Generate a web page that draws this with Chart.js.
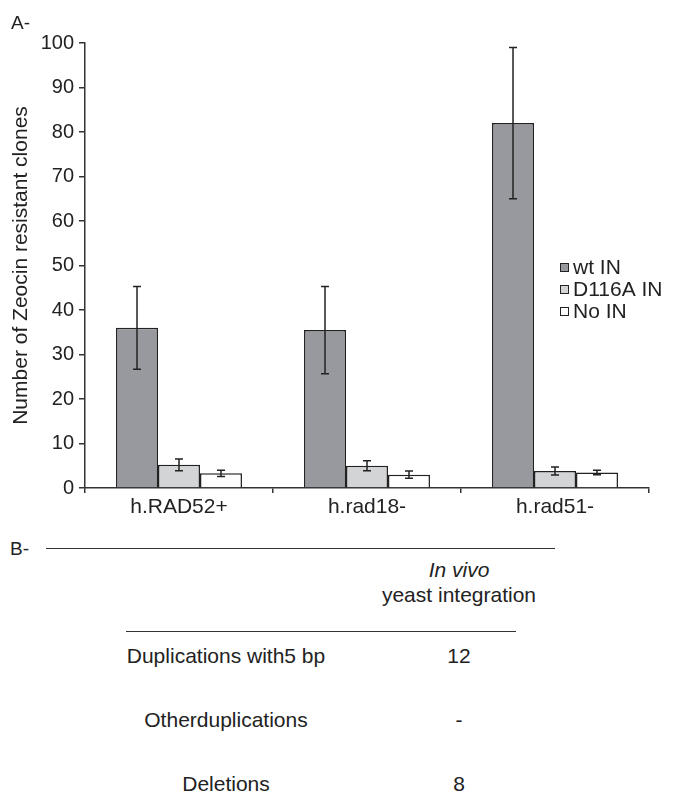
<!DOCTYPE html>
<html lang="en">
<head>
  <meta charset="UTF-8">
  <title>Zeocin resistant clones</title>
  <script src="https://cdn.jsdelivr.net/npm/chart.js"></script>
  <style>
    body {
      margin: 0;
      background: #fff;
      font-family: "Liberation Sans", Arial, sans-serif;
      color: #222;
    }
    .page {
      position: relative;
      width: 673px;
      height: 808px;
      overflow: hidden;
    }
    #chart {
      position: absolute;
      left: 0;
      top: 0;
    }
    .lbl {
      position: absolute;
      font-size: 19px;
      line-height: 1;
    }
    .rule {
      position: absolute;
      border-top: 1.5px solid #333;
      height: 0;
    }
    .cell {
      position: absolute;
      font-size: 21px;
      line-height: 1;
      white-space: nowrap;
      transform: translate(-50%, -50%);
    }
  </style>
</head>
<body>
<div class="page">
  <canvas id="chart" width="673" height="520"></canvas>
  <div class="lbl" style="left:11px; top:13px;">A-</div>

  <!-- part B: small table -->
  <div class="lbl" style="left:10px; top:539px;">B-</div>
  <div class="rule" style="left:46px; top:548px; width:509px;"></div>
  <div class="cell" style="left:459px; top:569px;"><i>In vivo</i></div>
  <div class="cell" style="left:459px; top:594px;">yeast integration</div>
  <div class="rule" style="left:126px; top:631px; width:390px;"></div>
  <div id="rows"></div>
</div>

<script>
  // chart data
  const categories = ['h.RAD52+', 'h.rad18-', 'h.rad51-'];
  const seriesNames = ['wt IN', 'D116A IN', 'No IN'];
  const wtValues = [36, 35.5, 82];
  const wtErrors = [9.3, 9.8, 17];
  const d116aValues = [5.2, 5.0, 3.8];
  const d116aErrors = [1.3, 1.1, 0.9];
  const noInValues = [3.3, 3.0, 3.5];
  const noInErrors = [0.7, 0.8, 0.5];
  const yMin = 0, yMax = 100, yStep = 10;

  // table data
  const rowLabels = ['Duplications with5 bp', 'Otherduplications', 'Deletions'];
  const rowValues = ['12', '-', '8'];

  const rowTops = [655, 719, 783];
  const rows = document.getElementById('rows');
  rowLabels.forEach((txt, i) => {
    const a = document.createElement('div');
    a.className = 'cell';
    a.style.left = '226px';
    a.style.top = rowTops[i] + 'px';
    a.textContent = txt;
    rows.appendChild(a);
    const b = document.createElement('div');
    b.className = 'cell';
    b.style.left = '459px';
    b.style.top = rowTops[i] + 'px';
    b.textContent = rowValues[i];
    rows.appendChild(b);
  });

  const fam = '"Liberation Sans", Arial, sans-serif';

  // error bars drawn over the bars
  const errorBars = {
    id: 'errorBars',
    afterDatasetsDraw(chart) {
      const ctx = chart.ctx;
      const y = chart.scales.y;
      ctx.save();
      ctx.strokeStyle = '#222';
      ctx.lineWidth = 1.5;
      chart.data.datasets.forEach((ds, i) => {
        chart.getDatasetMeta(i).data.forEach((bar, j) => {
          const top = y.getPixelForValue(ds.data[j] + ds.errors[j]);
          const bot = y.getPixelForValue(ds.data[j] - ds.errors[j]);
          ctx.beginPath();
          ctx.moveTo(bar.x, top);
          ctx.lineTo(bar.x, bot);
          ctx.moveTo(bar.x - 4, top);
          ctx.lineTo(bar.x + 4, top);
          ctx.moveTo(bar.x - 4, bot);
          ctx.lineTo(bar.x + 4, bot);
          ctx.stroke();
        });
      });
      ctx.restore();
    }
  };

  // legend floating inside the plot, right side
  const floatLegend = {
    id: 'floatLegend',
    afterDraw(chart) {
      const ctx = chart.ctx;
      ctx.save();
      ctx.font = '21px ' + fam;
      ctx.textBaseline = 'middle';
      chart.data.datasets.forEach((ds, i) => {
        const cy = 267 + i * 22;
        ctx.fillStyle = ds.backgroundColor;
        ctx.fillRect(560, cy - 4, 8, 8);
        ctx.strokeStyle = '#222';
        ctx.lineWidth = 1;
        ctx.strokeRect(560.5, cy - 3.5, 8, 8);
        ctx.fillStyle = '#222';
        ctx.fillText(ds.label, 573, cy + 1);
      });
      ctx.restore();
    }
  };

  new Chart(document.getElementById('chart'), {
    type: 'bar',
    data: {
      labels: categories,
      datasets: [
        { label: seriesNames[0], data: wtValues, errors: wtErrors, backgroundColor: '#98999e' },
        { label: seriesNames[1], data: d116aValues, errors: d116aErrors, backgroundColor: '#d3d4d6' },
        { label: seriesNames[2], data: noInValues, errors: noInErrors, backgroundColor: '#ffffff' }
      ]
    },
    options: {
      responsive: false,
      animation: false,
      devicePixelRatio: 1,
      categoryPercentage: 0.67,
      barPercentage: 1.0,
      datasets: {
        bar: { borderColor: '#222', borderWidth: 1.5 }
      },
      layout: { padding: { left: 0, right: 24, top: 43, bottom: 0 } },
      plugins: {
        legend: { display: false },
        tooltip: { enabled: false }
      },
      scales: {
        x: {
          afterFit: s => { s.height = 32; },
          border: { color: '#333', width: 1.5 },
          grid: { drawOnChartArea: false, tickLength: 5, color: '#333', lineWidth: 1.5 },
          ticks: { color: '#222', font: { family: fam, size: 21 }, padding: 2, maxRotation: 0 }
        },
        y: {
          min: yMin,
          max: yMax,
          afterFit: s => { s.width = 85; },
          border: { color: '#333', width: 1.5 },
          grid: { drawOnChartArea: false, tickLength: 6, color: '#333', lineWidth: 1.5 },
          ticks: { stepSize: yStep, color: '#222', font: { family: fam, size: 20 }, padding: 5 },
          title: {
            display: true,
            text: 'Number of Zeocin resistant clones',
            color: '#222',
            font: { family: fam, size: 21 },
            padding: { top: 9, bottom: 2 }
          }
        }
      }
    },
    plugins: [errorBars, floatLegend]
  });
</script>
</body>
</html>
